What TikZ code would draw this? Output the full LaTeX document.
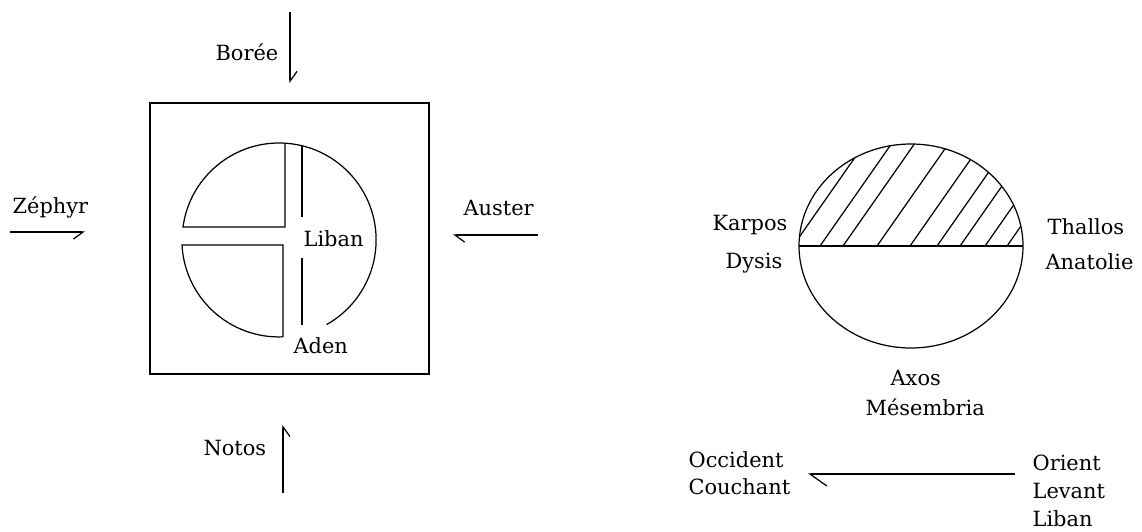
\documentclass[tikz,border=0pt]{standalone}
\usepackage{fontspec}
\setmainfont{DejaVu Serif}
\usetikzlibrary{arrows.meta}

\tikzset{
  lbl/.style={anchor=base west, inner sep=0pt, font=\fontsize{11.9}{14}\selectfont},
  windl/.style={-{Straight Barb[left, length=5.5pt, width=8pt]}},
  windr/.style={-{Straight Barb[right, length=5.5pt, width=8pt]}},
}

\begin{document}
\begin{tikzpicture}[x=0.02cm, y=-0.02cm, line width=0.7pt]
  \useasboundingbox (0,0) rectangle (1142,531);

  % winds round the square
  \coordinate (boreeA) at (290,12);   \coordinate (boreeB) at (290,83);
  \coordinate (zephA) at (10,232);    \coordinate (zephB) at (85,232);
  \coordinate (austA) at (538,235);   \coordinate (austB) at (453,235);
  \coordinate (notosA) at (283,493);  \coordinate (notosB) at (283,425);
  \draw[windl] (boreeA) -- (boreeB);
  \draw[windr] (zephA) -- (zephB);
  \draw[windl] (austA) -- (austB);
  \draw[windr] (notosA) -- (notosB);
  \node[lbl] (boree) at (215,60) {Borée};
  \node[lbl] (zephyr) at (12,213) {Zéphyr};
  \node[lbl] (auster) at (463,215) {Auster};
  \node[lbl] (notos) at (203,455) {Notos};

  % square with the cut circle
  \draw (150,103) rectangle (429,374);
  \draw (285,143) -- (285,227) -- (183,227)
        arc[start angle=-172.3, end angle=60.7, radius=97];
  \draw (283,337) -- (283,245) -- (182,245)
        arc[start angle=-183, end angle=-272.3, radius=97];
  \draw (302,146) -- (302,217);
  \draw (302,258) -- (302,325);
  \node[lbl] (liban) at (303,246) {Liban};
  \node[lbl] (aden) at (293,353) {Aden};

  % hatched ellipse
  \coordinate (dysisP) at (799,246);
  \coordinate (anatP) at (1023,246);
  \begin{scope}
    \clip (dysisP) arc[start angle=180, end angle=360, x radius=112, y radius=102] -- cycle;
    \foreach \hx in {793,820,843,877,910,937,960,985,1007}
      \draw (\hx,246) -- ++(100,-143);
  \end{scope}
  \draw (911,246) ellipse [x radius=112, y radius=102];
  \draw (dysisP) -- (anatP);
  \node[lbl] (karpos) at (712,230) {Karpos};
  \node[lbl] (dysis) at (725,268) {Dysis};
  \node[lbl] (thallos) at (1047,234) {Thallos};
  \node[lbl] (anatolie) at (1045,269) {Anatolie};
  \node[lbl] (axos) at (890,385) {Axos};
  \node[lbl] (mesembria) at (865,415) {Mésembria};

  % east to west
  \coordinate (orientP) at (1015,474);
  \coordinate (occidP) at (808,474);
  \draw[-{Straight Barb[left, length=9.6pt, width=13.6pt]}] (orientP) -- (occidP);
  \node[lbl] (occident) at (688,467) {Occident};
  \node[lbl] (couchant) at (688,494) {Couchant};
  \node[lbl] (orient) at (1032,470) {Orient};
  \node[lbl] (levant) at (1032,498) {Levant};
  \node[lbl] (libanE) at (1032,526) {Liban};
\end{tikzpicture}
\end{document}
